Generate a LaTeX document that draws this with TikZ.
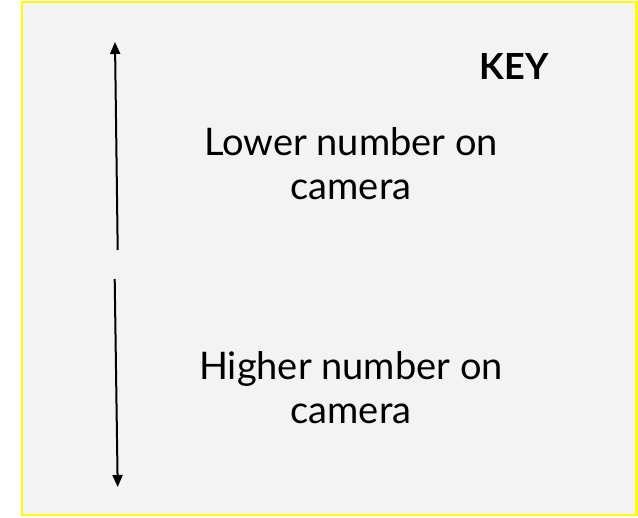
\documentclass[tikz,border=0pt]{standalone}
\usepackage{fontspec}
\setmainfont{Lato}
\usetikzlibrary{arrows.meta}
\definecolor{keyfill}{HTML}{F3F3F3}
\definecolor{keyborder}{HTML}{FFFF00}
\begin{document}
\begin{tikzpicture}[x=0.75pt,y=-0.75pt,
  keytext/.style={inner sep=0pt,align=center,font=\fontsize{28.5}{33}\selectfont},
  arrowline/.style={line width=1.5pt,-{Triangle[width=7.5pt,length=9pt]}}]
\useasboundingbox (0,0) rectangle (638,517);
\draw[fill=keyfill,draw=keyborder,line width=2.2pt] (22,2) rectangle (636.5,515);
\node[keytext,font=\fontsize{27}{33}\selectfont\bfseries] (key) at (514,66) {KEY};
\node[keytext] (lower) at (351,164) {Lower number on\\camera};
\node[keytext] (higher) at (351,387.5) {Higher number on\\camera};
\coordinate (upstart) at (117.7,250);
\coordinate (uptip) at (115,42);
\coordinate (downstart) at (114.7,279);
\coordinate (downtip) at (117.7,487);
\draw[arrowline] (upstart) -- (uptip);
\draw[arrowline] (downstart) -- (downtip);
\end{tikzpicture}
\end{document}
